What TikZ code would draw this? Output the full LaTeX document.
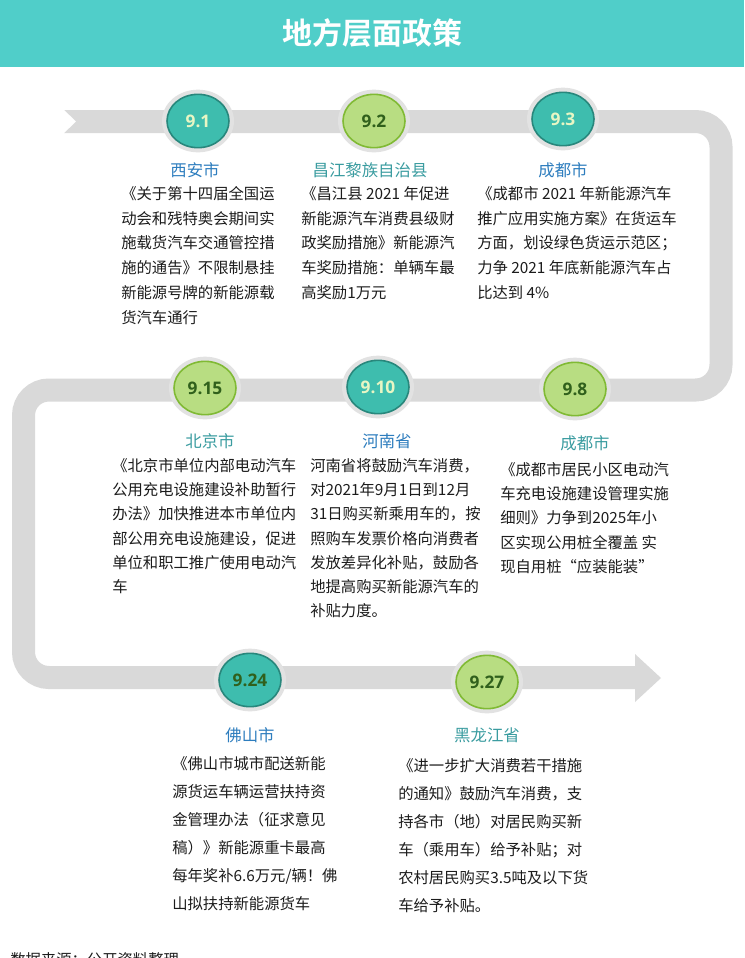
\documentclass[tikz,border=0pt]{standalone}
\usepackage{fontspec}
\setmainfont{Noto Sans CJK SC}[BoldFont={Noto Sans CJK SC Bold}]
\newfontfamily\numfont{Open Sans}
\usetikzlibrary{shapes.geometric}
\definecolor{headc}{RGB}{80,206,201}
\definecolor{bandgray}{RGB}{217,217,217}
\definecolor{halogray}{RGB}{226,226,226}
\definecolor{tealfill}{RGB}{62,189,174}
\definecolor{tealdraw}{RGB}{40,135,124}
\definecolor{greenfill}{RGB}{184,221,130}
\definecolor{greendraw}{RGB}{128,186,52}
\definecolor{palenum}{RGB}{232,246,196}
\definecolor{darknum}{RGB}{48,96,28}
\definecolor{cityblue}{RGB}{45,125,190}
\definecolor{cityteal}{RGB}{58,156,160}
\definecolor{bodyc}{RGB}{28,28,28}
\begin{document}
\begin{tikzpicture}[x=0.75pt,y=-0.75pt,
  band/.style={line width=17.25pt, draw=bandgray, rounded corners=19pt},
  halo/.style={ellipse, fill=halogray, minimum width=54pt, minimum height=47pt, inner sep=0pt},
  datebase/.style={ellipse, line width=1.2pt, minimum width=46.5pt, minimum height=40pt, inner sep=0pt, font=\numfont\bfseries\fontsize{13}{15}\selectfont},
  tealc/.style={datebase, fill=tealfill, draw=tealdraw, text=palenum},
  greenc/.style={datebase, fill=greenfill, draw=greendraw, text=darknum},
  citybase/.style={inner sep=0pt, font=\fontsize{12.3}{14}\selectfont},
  cityb/.style={citybase, text=cityblue},
  cityt/.style={citybase, text=cityteal},
  bodytext/.style={anchor=north west, inner sep=0pt, align=left, text=bodyc},
  bodyA/.style={bodytext, font=\fontsize{11.5}{18.6}\selectfont},
  bodyB/.style={bodytext, font=\fontsize{11.5}{18.2}\selectfont},
  bodyC/.style={bodytext, font=\fontsize{11.5}{21}\selectfont}]
\useasboundingbox (0,0) rectangle (744,958);
\fill[white] (0,0) rectangle (744,958);
% header
\fill[headc] (0,0) rectangle (744,67);
\node[text=white, font=\bfseries\fontsize{22.5}{26}\selectfont] (title) at (372,33) {地方层面政策};
% timeline band
\draw[band] (64,121.5) -- (721,121.5) -- (721,390) -- (23.5,390) -- (23.5,677.5) -- (637,677.5);
\fill[bandgray] (635,654) -- (661,678) -- (635,702) -- cycle;
\fill[white] (63,109) -- (76,121.5) -- (63,134) -- cycle;
% date circles
\node[halo] (h1) at (198,121) {};
\node[tealc] (d1) at (h1) {9.1};
\node[halo] (h2) at (374,121) {};
\node[greenc] (d2) at (h2) {9.2};
\node[halo] (h3) at (563,119) {};
\node[tealc] (d3) at (h3) {9.3};
\node[halo] (h4) at (205,388) {};
\node[greenc] (d4) at (h4) {9.15};
\node[halo] (h5) at (378,387) {};
\node[tealc] (d5) at (h5) {9.10};
\node[halo] (h6) at (575,389) {};
\node[greenc] (d6) at (h6) {9.8};
\node[halo] (h7) at (250,680) {};
\node[tealc, text=darknum] (d7) at (h7) {9.24};
\node[halo] (h8) at (487,682) {};
\node[greenc] (d8) at (h8) {9.27};
% city names
\node[cityb] (c1) at (195,170) {西安市};
\node[cityt] (c2) at (370,170) {昌江黎族自治县};
\node[cityb] (c3) at (563,170) {成都市};
\node[cityt] (c4) at (210,441) {北京市};
\node[cityb] (c5) at (387,441) {河南省};
\node[cityt] (c6) at (585,443) {成都市};
\node[cityb] (c7) at (250,735) {佛山市};
\node[cityt] (c8) at (487,735) {黑龙江省};
% body texts
\node[bodyA] (t1) at (121,186) {《关于第十四届全国运\\动会和残特奥会期间实\\施载货汽车交通管控措\\施的通告》不限制悬挂\\新能源号牌的新能源载\\货汽车通行};
\node[bodyA] (t2) at (301,186) {《昌江县 2021 年促进\\新能源汽车消费县级财\\政奖励措施》新能源汽\\车奖励措施：单辆车最\\高奖励1万元};
\node[bodyA] (t3) at (477,186) {《成都市 2021 年新能源汽车\\推广应用实施方案》在货运车\\方面，划设绿色货运示范区；\\力争 2021 年底新能源汽车占\\比达到 4\%};
\node[bodyB] (t4) at (112,458) {《北京市单位内部电动汽车\\公用充电设施建设补助暂行\\办法》加快推进本市单位内\\部公用充电设施建设，促进\\单位和职工推广使用电动汽\\车};
\node[bodyB] (t5) at (310,458) {河南省将鼓励汽车消费，\\对2021年9月1日到12月\\31日购买新乘用车的，按\\照购车发票价格向消费者\\发放差异化补贴，鼓励各\\地提高购买新能源汽车的\\补贴力度。};
\node[bodyB] (t6) at (500,462) {《成都市居民小区电动汽\\车充电设施建设管理实施\\细则》力争到2025年小\\区实现公用桩全覆盖 实\\现自用桩“应装能装”};
\node[bodyC] (t7) at (172,756) {《佛山市城市配送新能\\源货运车辆运营扶持资\\金管理办法（征求意见\\稿）》新能源重卡最高\\每年奖补6.6万元/辆！佛\\山拟扶持新能源货车};
\node[bodyC] (t8) at (398,758) {《进一步扩大消费若干措施\\的通知》鼓励汽车消费，支\\持各市（地）对居民购买新\\车（乘用车）给予补贴；对\\农村居民购买3.5吨及以下货\\车给予补贴。};
% source
\node[anchor=north west, inner sep=0pt, text=bodyc, font=\fontsize{11.5}{14}\selectfont] (src) at (10,952) {数据来源：公开资料整理};
\end{tikzpicture}
\end{document}
